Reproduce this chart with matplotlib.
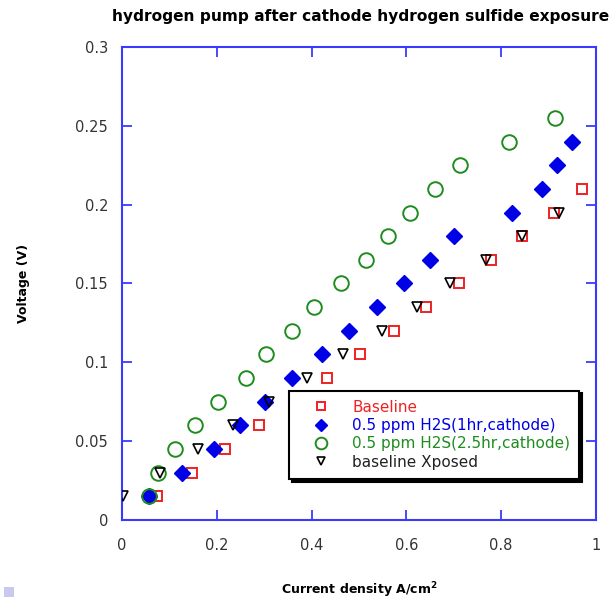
import matplotlib
matplotlib.use("Agg")
import matplotlib.pyplot as plt
from matplotlib.patches import Rectangle

# ---- data ----
baseline_x = [0.073, 0.147, 0.217, 0.290, 0.432, 0.503, 0.573, 0.641, 0.712, 0.778, 0.843, 0.911, 0.970]
baseline_y = [0.015, 0.030, 0.045, 0.060, 0.090, 0.105, 0.120, 0.135, 0.150, 0.165, 0.180, 0.195, 0.210]

h2s1_x = [0.058, 0.126, 0.195, 0.249, 0.302, 0.359, 0.423, 0.478, 0.537, 0.595, 0.650, 0.700, 0.823, 0.887, 0.917, 0.950]
h2s1_y = [0.015, 0.030, 0.045, 0.060, 0.075, 0.090, 0.105, 0.120, 0.135, 0.150, 0.165, 0.180, 0.195, 0.210, 0.225, 0.240]

h2s25_x = [0.058, 0.075, 0.112, 0.154, 0.203, 0.262, 0.304, 0.359, 0.406, 0.461, 0.514, 0.561, 0.608, 0.660, 0.713, 0.817, 0.914]
h2s25_y = [0.015, 0.030, 0.045, 0.060, 0.075, 0.090, 0.105, 0.120, 0.135, 0.150, 0.165, 0.180, 0.195, 0.210, 0.225, 0.240, 0.255]

xposed_x = [0.003, 0.080, 0.161, 0.235, 0.311, 0.390, 0.467, 0.548, 0.622, 0.692, 0.768, 0.843, 0.922]
xposed_y = [0.015, 0.030, 0.045, 0.060, 0.075, 0.090, 0.105, 0.120, 0.135, 0.150, 0.165, 0.180, 0.195]

labels = ["Baseline", "0.5 ppm H2S(1hr,cathode)", "0.5 ppm H2S(2.5hr,cathode)", "baseline Xposed"]
x_ticks = [0, 0.2, 0.4, 0.6, 0.8, 1]
x_tick_labels = ["0", "0.2", "0.4", "0.6", "0.8", "1"]
y_ticks = [0, 0.05, 0.1, 0.15, 0.2, 0.25, 0.3]
y_tick_labels = ["0", "0.05", "0.1", "0.15", "0.2", "0.25", "0.3"]

RED = "#ee2222"
BLUE = "#0000e6"
GREEN = "#1e8c1e"
SPINE = "#3a3aff"

fig = plt.figure(figsize=(6.10, 6.01), dpi=100)
ax = fig.add_axes([0.2, 0.1348, 0.777, 0.787])

ax.plot(baseline_x, baseline_y, linestyle="none", marker="s", markersize=7.8,
        markerfacecolor="none", markeredgecolor=RED, markeredgewidth=1.4, label=labels[0], zorder=3)
ax.plot(h2s1_x, h2s1_y, linestyle="none", marker="D", markersize=7.8,
        markerfacecolor=BLUE, markeredgecolor=BLUE, markeredgewidth=1.0, label=labels[1], zorder=3)
ax.plot(h2s25_x, h2s25_y, linestyle="none", marker="o", markersize=10.5,
        markerfacecolor="none", markeredgecolor=GREEN, markeredgewidth=1.4, label=labels[2], zorder=3)
ax.plot(xposed_x, xposed_y, linestyle="none", marker="v", markersize=7,
        markerfacecolor="none", markeredgecolor="black", markeredgewidth=1.2, label=labels[3], zorder=4)

ax.set_xlim(0, 1)
ax.set_ylim(0, 0.3)
ax.set_xticks(x_ticks)
ax.set_xticklabels(x_tick_labels)
ax.set_yticks(y_ticks)
ax.set_yticklabels(y_tick_labels)

for s in ax.spines.values():
    s.set_color(SPINE)
    s.set_linewidth(1.5)

ax.tick_params(axis="both", which="both", direction="in", length=7, width=1.3,
               color=SPINE, labelcolor="#333333", labelsize=10.5,
               top=True, right=True)
ax.tick_params(axis="x", pad=13)
ax.tick_params(axis="y", pad=10)

ax.set_xlabel("Current density A/cm$^\\mathbf{2}$", fontsize=9, fontweight="bold", labelpad=20)
ax.set_ylabel("Voltage (V)", fontsize=9, fontweight="bold", labelpad=33)

fig.text(112 / 610, 1 - 16 / 601, "hydrogen pump after cathode hydrogen sulfide exposure",
         fontsize=11.1, fontweight="bold", ha="left", va="center")

leg = ax.legend(loc="lower left", bbox_to_anchor=(0.352, 0.0867), fontsize=11,
                frameon=True, fancybox=False, shadow={"color": "black", "alpha": 1.0},
                borderpad=0.6, handlelength=3.0, handletextpad=0.55, labelspacing=0.22,
                borderaxespad=0.0, markerscale=0.8)
leg.get_frame().set_edgecolor("black")
leg.get_frame().set_linewidth(1.5)
leg.get_frame().set_alpha(1.0)
colors = [RED, BLUE, GREEN, "#222222"]
for t, c in zip(leg.get_texts(), colors):
    t.set_color(c)

fig.patches.append(Rectangle((4 / 610, 4 / 601), 10 / 610, 10 / 601, transform=fig.transFigure,
                             facecolor="#c8c8f0", edgecolor="none"))

fig.savefig("out.png", dpi=100)
